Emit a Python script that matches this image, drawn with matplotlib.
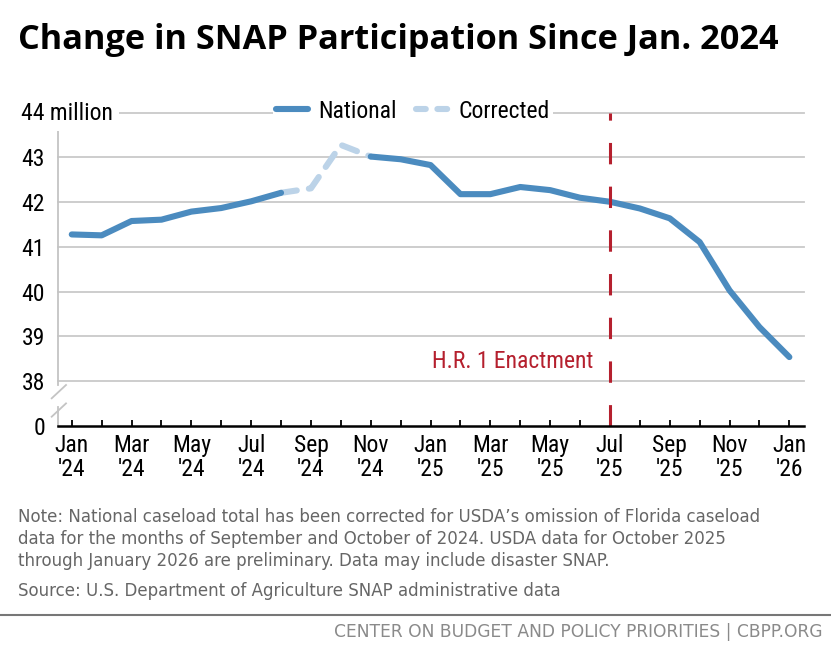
import matplotlib
matplotlib.use("Agg")
import matplotlib.pyplot as plt
from matplotlib import font_manager as fm
from matplotlib.lines import Line2D
import numpy as np

names = {f.name for f in fm.fontManager.ttflist}
COND = next((n for n in ['Liberation Sans Narrow', 'Roboto Condensed', 'Open Sans Condensed'] if n in names), 'Liberation Sans')
SANS = 'DejaVu Sans'
TITLE = next((n for n in ['Open Sans', 'Lato'] if n in names), 'DejaVu Sans')

# ---- data (millions of participants) ----
months = ["Jan '24", "Feb '24", "Mar '24", "Apr '24", "May '24", "Jun '24", "Jul '24", "Aug '24",
          "Sep '24", "Oct '24", "Nov '24", "Dec '24", "Jan '25", "Feb '25", "Mar '25", "Apr '25",
          "May '25", "Jun '25", "Jul '25", "Aug '25", "Sep '25", "Oct '25", "Nov '25", "Dec '25", "Jan '26"]
national = [41.28, 41.26, 41.58, 41.61, 41.79, 41.87, 42.02, 42.21,
            None, None, 43.02, 42.96, 42.83, 42.18, 42.18, 42.34,
            42.27, 42.10, 42.01, 41.86, 41.64, 41.11, 40.03, 39.21, 38.54]
corrected = [None] * 7 + [42.21, 42.31, 43.28, 43.02] + [None] * 14
tick_labels = ["Jan\n'24", "", "Mar\n'24", "", "May\n'24", "", "Jul\n'24", "", "Sep\n'24", "",
               "Nov\n'24", "", "Jan\n'25", "", "Mar\n'25", "", "May\n'25", "", "Jul\n'25", "",
               "Sep\n'25", "", "Nov\n'25", "", "Jan\n'26"]
y_ticks = [37, 38, 39, 40, 41, 42, 43]
y_tick_labels = ["0", "38", "39", "40", "41", "42", "43"]
event_month = "Jul '25"
event_label = "H.R. 1 Enactment"
note_lines = ["Note: National caseload total has been corrected for USDA\u2019s omission of Florida caseload",
              "data for the months of September and October of 2024. USDA data for October 2025",
              "through January 2026 are preliminary. Data may include disaster SNAP."]

W, H = 831, 646
fig = plt.figure(figsize=(W / 100, H / 100), dpi=100)
ax = fig.add_axes([58.3 / W, 1 - 426 / H, (804.3 - 58.3) / W, (426 - 112.7) / H])
ax.set_xlim(-0.45, 24.5)
ax.set_ylim(37, 44)

x = np.arange(len(months))
nat = np.array([np.nan if v is None else v for v in national], dtype=float)
cor = np.array([np.nan if v is None else v for v in corrected], dtype=float)

BLUE = "#4b8bbf"
LIGHT = "#bcd3e8"
RED = "#b5202e"

# gridlines
for g in [38, 39, 40, 41, 42, 43, 44]:
    ax.axhline(g, color="#c9c9c9", lw=1.3, zorder=1, clip_on=False)

ax.plot(x, cor, color=LIGHT, lw=4.4, dashes=(2.6, 2.0), solid_capstyle="round",
        dash_capstyle="round", zorder=3, clip_on=False, label="Corrected")
ax.plot(x, nat, color=BLUE, lw=4.4, solid_capstyle="round", solid_joinstyle="round",
        zorder=4, clip_on=False, label="National")

ex = months.index(event_month)
ax.plot([ex, ex], [37, 44], color=RED, lw=2.2, dashes=(7, 7.3), zorder=5, clip_on=False)
ax.text(ex - 0.55, 38.45, event_label, color=RED, fontsize=17, family=COND,
        ha="right", va="center", zorder=6)

for s in ax.spines.values():
    s.set_visible(False)

# baseline
ax.axhline(37, color="black", lw=1.8, zorder=6, clip_on=False)
# left spine with break
ax.plot([-0.45, -0.45], [43.65, 37.91], color="#c4c4c4", lw=1.3, clip_on=False, zorder=2)
ax.plot([-0.45, -0.45], [37.42, 37.0], color="#c4c4c4", lw=1.3, clip_on=False, zorder=2)
for y0 in [398.3, 416.7]:
    fig.add_artist(Line2D([51.7 / W, 66 / W], [1 - y0 / H, 1 - (y0 - 13.3) / H],
                          color="#c4c4c4", lw=1.3))

ax.set_xticks(x)
ax.set_xticklabels(tick_labels, family=COND, fontsize=17, linespacing=1.05)
ax.tick_params(axis="x", direction="in", length=4.5, width=1.3, color="black", pad=6)
ax.set_yticks(y_ticks)
ax.set_yticklabels(y_tick_labels, family=COND, fontsize=17)
ax.tick_params(axis="y", length=0, pad=9.5)

fig.text(21 / W, 1 - 114 / H, "44 million", family=COND, fontsize=17, ha="left", va="center",
         bbox=dict(facecolor="white", edgecolor="none", pad=4))

handles = [Line2D([], [], color=BLUE, lw=4.4, solid_capstyle="round"),
           Line2D([], [], color=LIGHT, lw=4.4, dashes=(1.6, 1.9), dash_capstyle="round")]
leg = fig.legend(handles, ["National", "Corrected"], loc="center",
                 bbox_to_anchor=(413 / W, 1 - 111 / H), ncol=2, frameon=True,
                 prop=dict(family=COND, size=17), handlelength=1.35, handletextpad=0.45,
                 columnspacing=0.8, borderpad=0.15, fancybox=False)
leg.get_frame().set_facecolor("white")
leg.get_frame().set_edgecolor("none")
leg.get_frame().set_alpha(1)

fig.text(18 / W, 1 - 40 / H, "Change in SNAP Participation Since Jan. 2024", family=TITLE,
         fontweight="bold", fontsize=24.7, ha="left", va="center", color="black")

for line, yb in zip(note_lines, [522, 544, 566]):
    fig.text(18 / W, 1 - yb / H, line, family=SANS, fontsize=12, color="#666666",
             ha="left", va="baseline")
fig.text(18 / W, 1 - 596 / H, "Source: U.S. Department of Agriculture SNAP administrative data",
         family=SANS, fontsize=12, color="#666666", ha="left", va="baseline")
fig.add_artist(Line2D([0, 1], [1 - 615 / H, 1 - 615 / H], color="#777777", lw=1.5))
fig.text(823 / W, 1 - 637 / H, "CENTER ON BUDGET AND POLICY PRIORITIES | CBPP.ORG",
         family=SANS, fontsize=12.3, color="#8a8a8a", ha="right", va="baseline")

fig.savefig("out.png", dpi=100)
